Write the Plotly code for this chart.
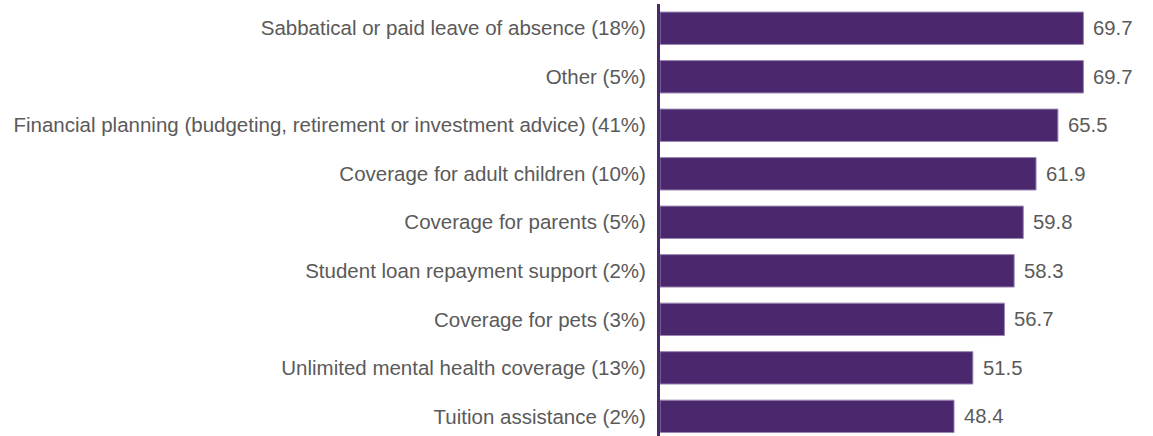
import plotly.graph_objects as go

# Benefit categories (share of respondents in parentheses) and their scores
categories = [
    "Sabbatical or paid leave of absence (18%)",
    "Other (5%)",
    "Financial planning (budgeting, retirement or investment advice) (41%)",
    "Coverage for adult children (10%)",
    "Coverage for parents (5%)",
    "Student loan repayment support (2%)",
    "Coverage for pets (3%)",
    "Unlimited mental health coverage (13%)",
    "Tuition assistance (2%)",
]
scores = [69.7, 69.7, 65.5, 61.9, 59.8, 58.3, 56.7, 51.5, 48.4]

BAR = "#4b286d"
TEXT = "#5a5a5a"
FONT = "Liberation Sans, Arial, sans-serif"

fig = go.Figure(
    go.Bar(
        x=scores,
        y=categories,
        orientation="h",
        marker=dict(color=BAR, line=dict(color="#9a86b3", width=1)),
        hoverinfo="x+y",
    )
)

# Value labels just right of each bar
for cat, val in zip(categories, scores):
    fig.add_annotation(
        x=val, y=cat, text=f"{val:.1f}", showarrow=False,
        xanchor="left", yanchor="middle", xshift=8,
        font=dict(family=FONT, size=20.3, color=TEXT),
    )

fig.update_layout(
    width=1153,
    height=436,
    margin=dict(l=660, r=7, t=4, b=0),
    paper_bgcolor="white",
    plot_bgcolor="white",
    bargap=0.332,
    showlegend=False,
    font=dict(family=FONT, size=20, color=TEXT),
)
fig.update_xaxes(range=[0, 80], visible=False, fixedrange=True)
fig.update_yaxes(
    type="category",
    categoryorder="array",
    categoryarray=categories,
    range=[8.405, -0.5],
    showline=True,
    linecolor=BAR,
    linewidth=3,
    showgrid=False,
    ticks="outside",
    ticklen=7,
    tickcolor="rgba(0,0,0,0)",
    tickfont=dict(family=FONT, size=20.5, color=TEXT),
    fixedrange=True,
)

fig.write_html("out.html", config={"displayModeBar": False})
